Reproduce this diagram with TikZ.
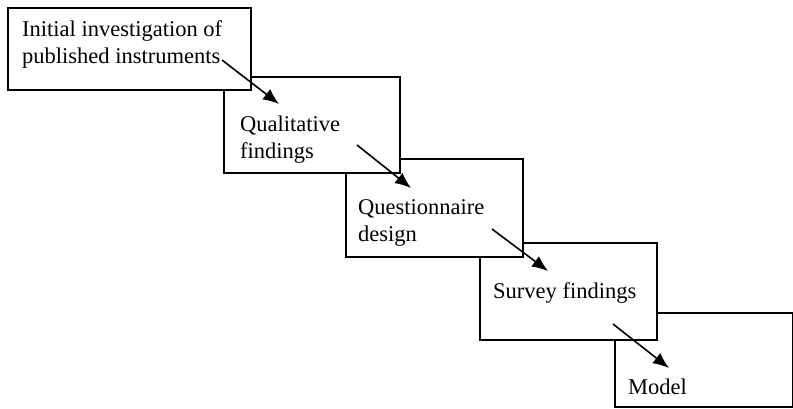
\documentclass[tikz,border=0pt]{standalone}
\usepackage{fontspec}
\setmainfont{Liberation Serif}
\usepackage{tikz}
\usetikzlibrary{calc,arrows.meta,positioning}

\begin{document}
\begin{tikzpicture}[x=1pt,y=-1pt]
    \tikzset{stage/.style={draw, fill=white, line width=1.8pt, anchor=north west, inner sep=0pt},
        stagetext/.style={anchor=base west, align=left, inner sep=0pt, font=\fontsize{22.5}{26.5}\selectfont},
        flow/.style={line width=1.6pt, -{Latex[length=16pt,width=13pt]}},}
    \useasboundingbox (0,0) rectangle (793,408);
    % boxes, later stages behind earlier ones
    \node[stage, minimum width=178pt, minimum height=94pt] (b5) at (614,312) {};
    \node[stage, minimum width=177pt, minimum height=97pt] (b4) at (479,242) {};
    \node[stage, minimum width=177pt, minimum height=98pt] (b3) at (345,158) {};
    \node[stage, minimum width=176pt, minimum height=96pt] (b2) at (223,76) {};
    \node[stage, minimum width=243pt, minimum height=82pt] (b1) at (7,7) {};
    % texts (anchored on the last line)
    \node[stagetext] (t1) at (22,63) {Initial investigation of\\published instruments};
    \node[stagetext] (t2) at (240,158) {Qualitative\\findings};
    \node[stagetext] (t3) at (358,241) {Questionnaire\\design};
    \node[stagetext] (t4) at (493,298) {Survey findings};
    \node[stagetext] (t5) at (628,394) {Model};
    % arrows
    \coordinate (s1) at (222,60);  \coordinate (e1) at (279,104);
    \coordinate (s2) at (357,145); \coordinate (e2) at (411,188);
    \coordinate (s3) at (492,229); \coordinate (e3) at (548,271);
    \coordinate (s4) at (613,324); \coordinate (e4) at (669,368);
    \draw[flow] (s1) -- (e1);
    \draw[flow] (s2) -- (e2);
    \draw[flow] (s3) -- (e3);
    \draw[flow] (s4) -- (e4);
\end{tikzpicture}
\end{document}
